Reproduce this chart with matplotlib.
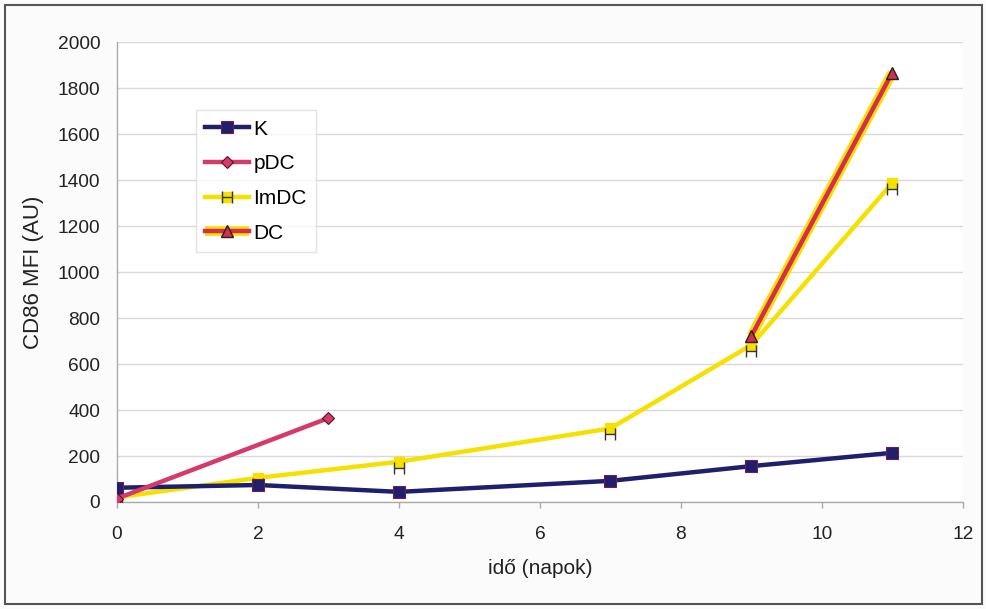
import matplotlib
matplotlib.use("Agg")
import matplotlib.pyplot as plt
from matplotlib.path import Path
from matplotlib.lines import Line2D
from matplotlib.patches import Rectangle
from matplotlib.legend_handler import HandlerTuple

plt.rcParams['font.family'] = ['Liberation Sans', 'DejaVu Sans']

# days and CD86 MFI per series
k_days = [0, 2, 4, 7, 9, 11]
k_vals = [62, 74, 44, 92, 156, 214]

pdc_days = [0, 3]
pdc_vals = [15, 365]

imdc_days = [0, 2, 4, 7, 9, 11]
imdc_vals = [20, 105, 175, 320, 683, 1388]

dc_days = [9, 11]
dc_vals = [722, 1868]

x_ticks = [0, 2, 4, 6, 8, 10, 12]
y_ticks = [0, 200, 400, 600, 800, 1000, 1200, 1400, 1600, 1800, 2000]

NAVY = '#1f1f6e'
PINK = '#d63a6a'
YELLOW = '#f5e000'
RED = '#d42d4f'
LW = 3.2

# "H"-shaped marker used for the ImDC series
h_marker = Path([(-0.5, -0.6), (-0.5, 0.6), (0.5, -0.6), (0.5, 0.6), (-0.5, 0.0), (0.5, 0.0)],
                [Path.MOVETO, Path.LINETO, Path.MOVETO, Path.LINETO, Path.MOVETO, Path.LINETO])

k_style = dict(color=NAVY, linewidth=LW, marker='s', markersize=8,
               markerfacecolor=NAVY, markeredgecolor='#6a2050', markeredgewidth=0.8)
pdc_style = dict(color=PINK, linewidth=LW, marker='D', markersize=6,
                 markerfacecolor=PINK, markeredgecolor='#5a1020', markeredgewidth=0.8)
imdc_style = dict(color=YELLOW, linewidth=LW, marker='s', markersize=7,
                  markerfacecolor=YELLOW, markeredgecolor=YELLOW)
imdc_h_style = dict(linestyle='none', marker=h_marker, markersize=9,
                    markeredgecolor='#333333', markeredgewidth=1.0)
dc_under_style = dict(color=YELLOW, linewidth=7, solid_capstyle='butt')
dc_style = dict(color=RED, linewidth=LW, marker='^', markersize=9,
                markerfacecolor=RED, markeredgecolor='#222222', markeredgewidth=1.0)

fig = plt.figure(figsize=(9.87, 6.09), dpi=100)
fig.patch.set_facecolor('#fbfbfb')
fig.add_artist(Rectangle((0.005, 0.008), 0.99, 0.984, transform=fig.transFigure,
                         fill=False, edgecolor='#555555', linewidth=1.5))

ax = fig.add_axes([0.1185, 0.1757, 0.857, 0.755])
ax.set_facecolor('white')

ax.plot(k_days, k_vals, zorder=5, **k_style)
ax.plot(pdc_days, pdc_vals, zorder=6, **pdc_style)
ax.plot(imdc_days, imdc_vals, zorder=4, **imdc_style)
ax.plot(imdc_days, [v - 25 for v in imdc_vals], zorder=4, **imdc_h_style)
ax.plot(dc_days, dc_vals, zorder=3, **dc_under_style)
ax.plot(dc_days, dc_vals, zorder=7, **dc_style)

ax.set_xlim(0, 12)
ax.set_ylim(0, 2000)
ax.set_xticks(x_ticks)
ax.set_yticks(y_ticks)
ax.tick_params(axis='both', labelsize=13.8, colors='#aaaaaa', labelcolor='#222222')
ax.tick_params(axis='x', length=4, width=1, pad=13)
ax.tick_params(axis='y', length=0, pad=12)
ax.yaxis.grid(True, color='#d9d9d9', linewidth=1)
ax.set_axisbelow(True)
for side in ['top', 'right']:
    ax.spines[side].set_visible(False)
for side in ['left', 'bottom']:
    ax.spines[side].set_color('#aaaaaa')
    ax.spines[side].set_linewidth(1)

ax.set_xlabel('idő (napok)', fontsize=15, color='#222222', labelpad=12)
ax.set_ylabel('CD86 MFI (AU)', fontsize=16, color='#222222', labelpad=10)

handles = [
    Line2D([], [], **k_style),
    Line2D([], [], **pdc_style),
    (Line2D([], [], **imdc_style), Line2D([], [], **imdc_h_style)),
    (Line2D([], [], **dc_under_style), Line2D([], [], **dc_style)),
]
leg = ax.legend(handles, ['K', 'pDC', 'ImDC', 'DC'], loc='upper left',
                bbox_to_anchor=(0.0934, 0.852), borderaxespad=0,
                handler_map={tuple: HandlerTuple(ndivide=1)},
                fontsize=15, frameon=True, fancybox=False,
                edgecolor='#dddddd', handlelength=2.1, handletextpad=0.2,
                labelspacing=0.75, borderpad=0.45)
leg.get_frame().set_linewidth(1)

fig.savefig('out.png', dpi=100, facecolor=fig.get_facecolor())
